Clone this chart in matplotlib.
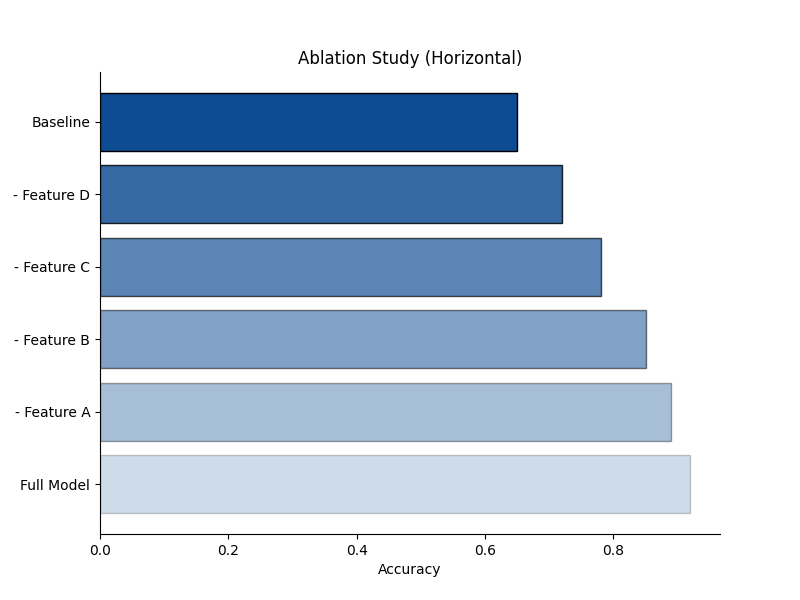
import numpy as np
import matplotlib
matplotlib.use('Agg')
import matplotlib.pyplot as plt

labels = ['Full Model', '- Feature A', '- Feature B', '- Feature C', '- Feature D', 'Baseline']
accuracy = [0.92, 0.89, 0.85, 0.78, 0.72, 0.65]
alphas = [0.2, 0.36, 0.52, 0.68, 0.84, 1.0]

fig, ax = plt.subplots(figsize=(8, 6), dpi=100)
y = np.arange(len(labels))
for i in range(len(labels)):
    ax.barh(y[i], accuracy[i], height=0.8, color='#0d4c92', alpha=alphas[i],
            edgecolor='black', linewidth=1)
ax.set_yticks(y)
ax.set_yticklabels(labels)
ax.set_xlabel('Accuracy')
ax.set_title('Ablation Study (Horizontal)')
ax.spines['top'].set_visible(False)
ax.spines['right'].set_visible(False)
fig.savefig('out.png')
